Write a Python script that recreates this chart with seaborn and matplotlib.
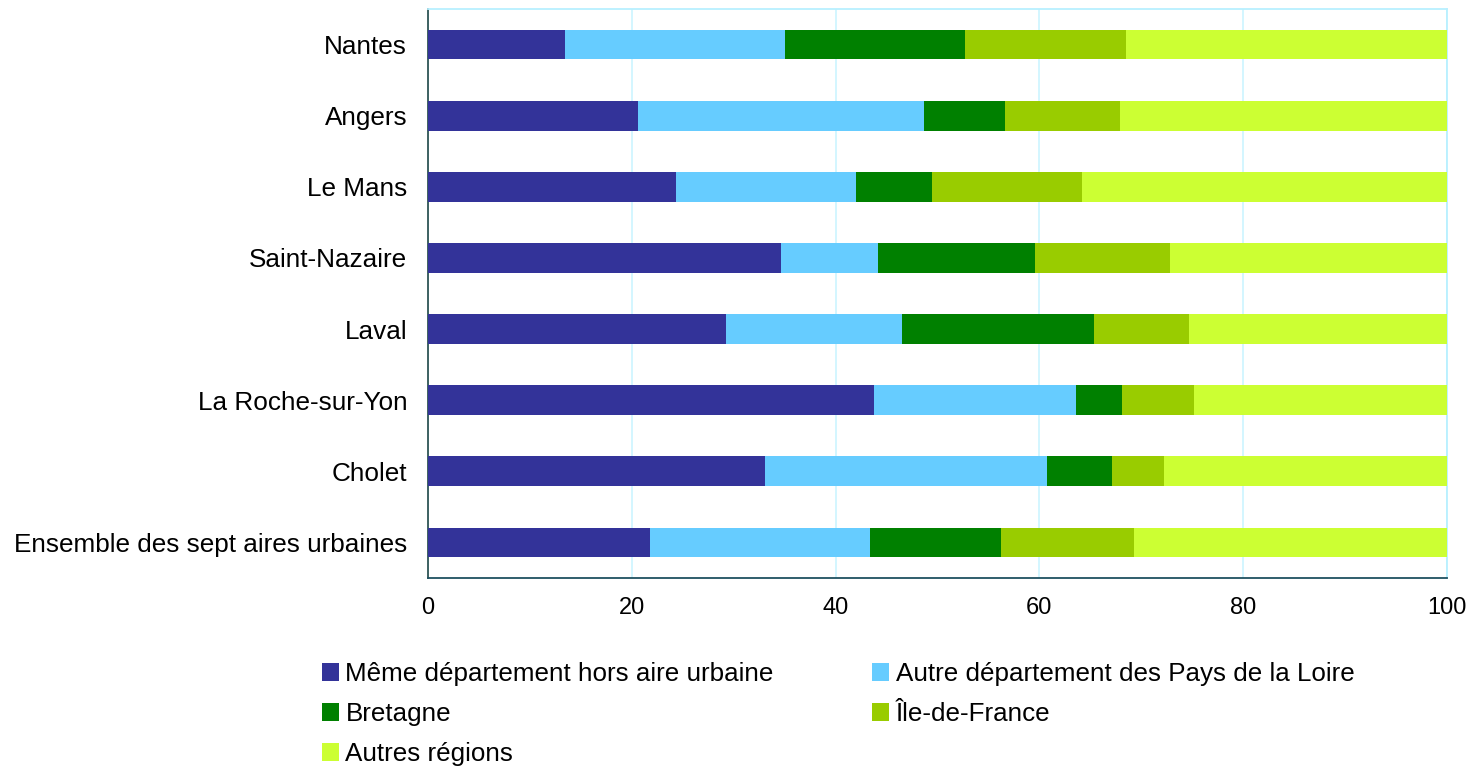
import numpy as np
import pandas as pd
import seaborn as sns
import matplotlib.pyplot as plt
from matplotlib.patches import Patch

# Data (shares in %)
villes = ["Nantes", "Angers", "Le Mans", "Saint-Nazaire", "Laval",
          "La Roche-sur-Yon", "Cholet", "Ensemble des sept aires urbaines"]
meme_dep = [13.4, 20.6, 24.3, 34.6, 29.2, 43.8, 33.1, 21.8]
autre_dep = [21.6, 28.1, 17.7, 9.6, 17.3, 19.8, 27.6, 21.6]
bretagne = [17.7, 7.9, 7.5, 15.4, 18.9, 4.5, 6.4, 12.8]
idf = [15.8, 11.3, 14.7, 13.2, 9.3, 7.1, 5.1, 13.1]
autres = [31.5, 32.1, 35.8, 27.2, 25.3, 24.8, 27.8, 30.7]

series = ["Même département hors aire urbaine",
          "Autre département des Pays de la Loire",
          "Bretagne", "Île-de-France", "Autres régions"]
colors = ["#333399", "#66CCFF", "#008000", "#99CC00", "#CCFF33"]

df = pd.DataFrame(dict(zip(series, [meme_dep, autre_dep, bretagne, idf, autres])),
                  index=villes)
cum = df.cumsum(axis=1)

sns.set_theme(style="white")
plt.rcParams["font.family"] = ["Liberation Sans", "DejaVu Sans"]
plt.rcParams["text.color"] = "black"

fig = plt.figure(figsize=(14.68, 7.67), dpi=100)
ax = fig.add_axes([428 / 1468, 1 - 578 / 767, (1447 - 428) / 1468, (578 - 9) / 767])

# stacked bars: draw cumulative totals from the last series backwards
for name, col in reversed(list(zip(series, colors))):
    sns.barplot(x=cum[name].values, y=villes, orient="h", color=col,
                width=0.42, saturation=1, linewidth=0, ax=ax, zorder=3)

ax.set_xlim(0, 100)
ax.set_xticks([0, 20, 40, 60, 80, 100])
ax.set_xlabel("")
ax.set_ylabel("")
ax.xaxis.grid(True, color="#CCF5FF", linewidth=1.2, zorder=0)
ax.set_axisbelow(True)
ax.tick_params(axis="x", length=0, pad=14, labelsize=17, colors="black")
ax.tick_params(axis="y", length=0, pad=15, labelsize=18.8, colors="black")

ax.spines["left"].set_color("#2F5555")
ax.spines["bottom"].set_color("#1F5060")
ax.spines["top"].set_color("#B8F0FF")
ax.spines["right"].set_color("#B8F0FF")
for s in ax.spines.values():
    s.set_linewidth(1.3)
    s.set_visible(True)

handles = [Patch(facecolor=c, edgecolor="none", label=s) for s, c in zip(series, colors)]
order = [0, 2, 4, 1, 3]
leg = fig.legend([handles[i] for i in order], [series[i] for i in order],
                 loc="upper left", bbox_to_anchor=(322 / 1468, 1 - 662 / 767),
                 ncol=2, frameon=False, fontsize=18.7, handlelength=0.65,
                 handleheight=0.65, handletextpad=0.25, labelspacing=0.62,
                 columnspacing=3.8, borderaxespad=0, borderpad=0)
for t in leg.get_texts():
    t.set_color("black")

fig.savefig("out.png", dpi=100)
